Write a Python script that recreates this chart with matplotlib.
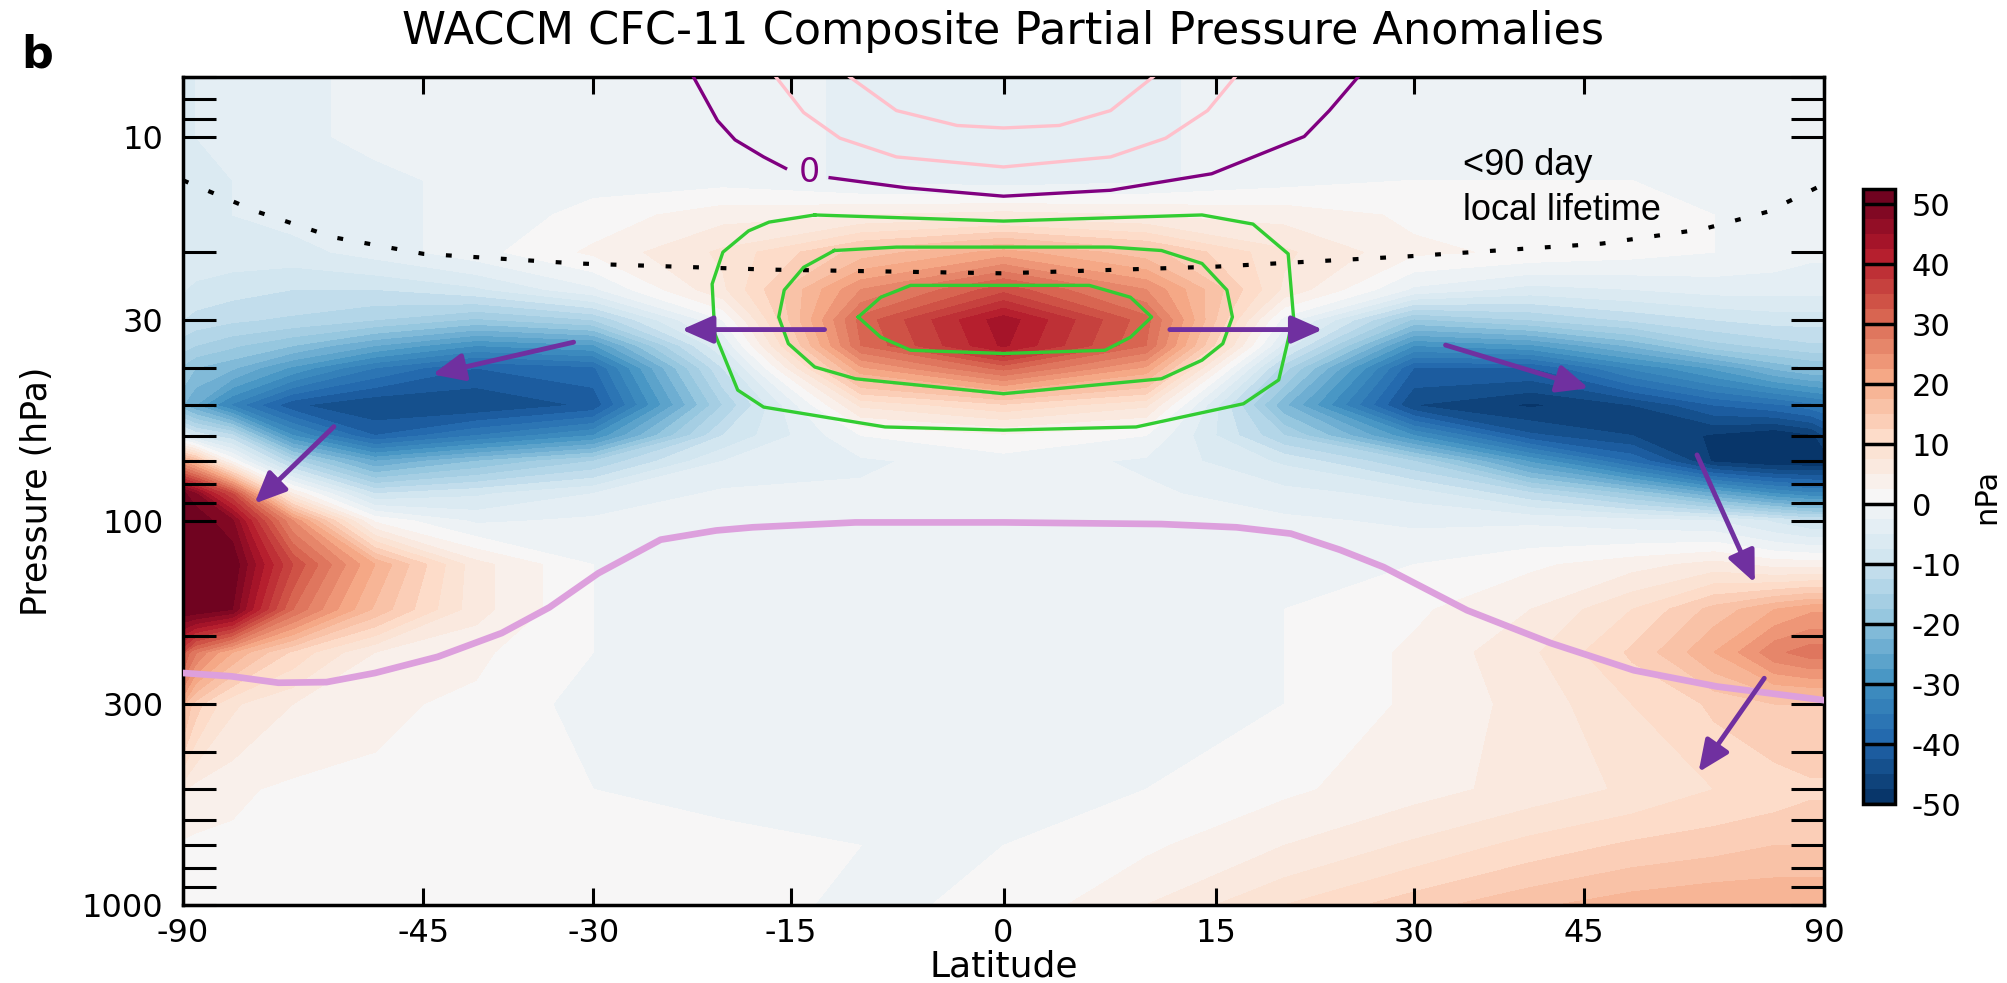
import numpy as np
import matplotlib.pyplot as plt
from matplotlib.ticker import FixedLocator, FixedFormatter, LogLocator, NullFormatter

# grid (nPa); rows = pressure levels, columns = latitudes
lats = [-90, -80, -70, -60, -50, -40, -30, -20, -10, 0, 10, 20, 30, 40, 50, 60, 70, 80, 90]
levs = [7, 10, 13, 16, 20, 25, 30, 35, 40, 50, 60, 70, 85, 100, 130, 170, 220, 300, 500, 700, 1000]
anom = [
    [-5, -5, -4, -3, -2, -1, -1, -1, -3, -5, -3, -1, -1, -1, -1, -1, -1, -1, -1],
    [-5, -5, -4, -3, -2, -1, -1, -1, -3, -4, -3, -1, -1, -1, -1, -1, -1, -1, -1],
    [-5, -5, -5, -4, -3, -2, -1, -1, -3, -4, -3, -1, 0, 0, 0, 0, -1, -1, -1],
    [-5, -5, -5, -4, -3, -2, 1, 4, 5, 6, 5, 4, 2, 1, 1, 0, -1, -1, -1],
    [-5, -6, -6, -6, -4, -1, 3, 8, 16, 21, 16, 8, 3, 2, 1, 0, -1, -2, -2],
    [-7, -8, -9, -10, -10, -8, -3, 7, 25, 34, 25, 7, -3, -6, -5, -4, -4, -4, -4],
    [-10, -11, -12, -13, -15, -18, -15, 0, 31, 44, 31, -1, -18, -15, -12, -10, -9, -9, -9],
    [-14, -15, -17, -20, -25, -30, -28, -5, 30, 43, 30, -6, -30, -28, -22, -16, -14, -13, -13],
    [-18, -20, -22, -28, -35, -40, -38, -10, 22, 31, 22, -14, -40, -40, -32, -27, -22, -20, -20],
    [-22, -25, -33, -42, -45, -45, -42, -15, 8, 12, 8, -22, -45, -48, -45, -40, -38, -36, -35],
    [-5, -8, -12, -30, -40, -35, -30, -10, 0, 2, 0, -15, -30, -42, -45, -48, -50, -48, -45],
    [22, 18, 2, -14, -25, -20, -15, -5, -3, -1, -3, -8, -15, -28, -38, -48, -52, -52, -50],
    [52, 48, 35, 5, -10, -8, -5, -2, -2, -2, -2, -4, -6, -12, -18, -25, -30, -32, -32],
    [55, 53, 48, 25, 2, -3, -2, -1, -1, -1, -1, -2, -3, -3, -4, -5, -8, -10, -10],
    [55, 55, 53, 35, 20, 6, 0, -1, -1, -1, -1, -1, 0, 2, 4, 6, 4, 4, 4],
    [55, 55, 50, 30, 17, 6, 0, -1, -1, -1, -1, 0, 2, 5, 10, 16, 20, 22, 22],
    [35, 28, 20, 12, 5, 3, 0, -1, -1, -1, -1, 0, 3, 7, 13, 20, 27, 29, 29],
    [20, 14, 8, 5, 3, 2, -1, -1, -1, -1, -1, 0, 3, 6, 10, 13, 15, 15, 15],
    [6, 4, 3, 2, 2, 1, 0, -1, -1, -1, 0, 2, 4, 6, 8, 10, 11, 12, 12],
    [2, 2, 2, 2, 2, 2, 1, 1, 0, 0, 2, 5, 8, 11, 13, 14, 15, 15, 15],
    [2, 2, 2, 2, 2, 2, 1, 1, -0.5, 0.5, 5, 10, 14, 17, 19, 20, 20, 20, 20],
]

# tropopause (plum)
trop_lat = [-90, -70.2, -62.1, -55.6, -50, -43.6, -37.7, -33.6, -29.6, -24.7, -20.5, -17.8,
            -10.4, 0, 11.1, 16.5, 20.5, 24.2, 27.6, 34.4, 41.8, 50.2, 60.4, 90]
trop_p = [249, 254, 264, 263, 249, 226, 196, 168, 137, 112, 106, 104,
          101, 101, 102, 104, 108, 119, 132, 171, 208, 245, 270, 293]

# <90 day local lifetime boundary
life_lat = [-90, -65.4, -54.7, -45, -31.3, -16.6, 0, 15.1, 29.6, 46.8, 58.6, 68.6, 90]
life_p = [13.0, 15.7, 18.3, 20.2, 21.4, 22.2, 22.7, 21.8, 20.5, 19.0, 17.4, 15.7, 13.3]

# zero contour (purple), split around its label
zero_lat_a = [-22.2, -20.4, -19.1, -17.0, -15.4]
zero_p_a = [7, 9.09, 10.2, 11.3, 12.1]
zero_lat_b = [-12.2, -6.8, 0, 7.5, 14.7, 21.5, 23.4, 25.6]
zero_p_b = [12.8, 13.6, 14.3, 13.8, 12.5, 10.0, 8.56, 7]

# pink contours
pink1_lat = [-16.1, -14.1, -11.5, -7.5, 0, 7.5, 11.4, 14.4, 16.4]
pink1_p = [7, 8.66, 10.1, 11.3, 12.0, 11.3, 10.1, 8.56, 7]
pink2_lat = [-10.8, -7.5, -3.25, 0, 3.9, 7.5, 10.5]
pink2_p = [7, 8.56, 9.36, 9.5, 9.36, 8.56, 7]

# green contours
green1_lat = [-13.3, -16.6, -18.1, -20.0, -20.8, -20.6, -18.9, -17.0, -8.3, 0, 9.3, 17.0, 19.6, 20.7, 20.3, 17.7, 14.0, 0, -13.3]
green1_p = [16.0, 16.7, 17.6, 20.0, 24.2, 32.6, 45.7, 50.6, 57.0, 58.1, 57.0, 49.6, 43.0, 29.5, 20.2, 16.9, 16.0, 16.6, 16.0]
green2_lat = [-11.9, -7.5, 0, 7.5, 11.1, 14.0, 15.8, 16.2, 15.5, 14.0, 11.1, 0, -10.4, -13.3, -15.2, -15.9, -15.5, -14.1, -11.9]
green2_p = [19.8, 19.4, 19.4, 19.4, 19.8, 21.4, 25.1, 29.5, 34.6, 38.2, 42.7, 46.7, 42.7, 39.8, 34.6, 29.5, 25.1, 21.9, 19.8]
green3_lat = [-10.2, -8.6, -6.5, 0, 6.0, 8.9, 10.4, 8.9, 7.1, 0, -6.5, -8.6, -10.2]
green3_p = [29.5, 26.2, 24.4, 24.4, 24.4, 26.2, 29.5, 33.3, 36.0, 36.7, 36.0, 33.3, 29.5]

# transport arrows: (start lat, start p, end lat, end p)
arrows = [
    (-31.6, 34.3, -44.1, 41.6),
    (-54.7, 56.9, -65.9, 90.2),
    (-12.6, 31.8, -23.1, 31.8),
    (11.7, 31.8, 22.9, 31.8),
    (32.6, 34.9, 45.5, 45.2),
    (57.7, 67.4, 66.3, 145),
    (68.0, 257, 57.9, 451),
]

xticks = [-90, -45, -30, -15, 0, 15, 30, 45, 90]
yticks = [10, 30, 100, 300, 1000]
cticks = [-50, -40, -30, -20, -10, 0, 10, 20, 30, 40, 50]

plt.rcParams['font.family'] = 'DejaVu Sans'

W, H = 2007, 983
fig = plt.figure(figsize=(W / 100, H / 100), dpi=100)
ax = fig.add_axes([183 / W, 1 - 905 / H, (1824 - 183) / W, (905 - 77) / H])
cax = fig.add_axes([1863 / W, 1 - 804 / H, 32 / W, (804 - 189) / H])


def fwd(x):
    return np.sin(np.radians(x))


def inv(y):
    return np.degrees(np.arcsin(np.clip(y, -1, 1)))


ax.set_xscale('function', functions=(fwd, inv))
ax.set_yscale('log')

levels = np.arange(-50, 52.6, 2.5)
cf = ax.contourf(lats, levs, np.clip(np.array(anom, float), -50, 52.4),
                 levels=levels, cmap='RdBu_r', zorder=1)

ax.plot(trop_lat, trop_p, color='plum', lw=4.8, solid_joinstyle='round', zorder=3)
ax.plot(life_lat, life_p, color='k', lw=3, ls=(0, (1.4, 5.2)), zorder=3)
ax.plot(zero_lat_a, zero_p_a, color='purple', lw=2.4, zorder=3)
ax.plot(zero_lat_b, zero_p_b, color='purple', lw=2.4, zorder=3)
ax.text(-13.7, 12.4, '0', color='purple', fontsize=24, ha='center', va='center', zorder=4)
ax.plot(pink1_lat, pink1_p, color='pink', lw=2.4, zorder=3)
ax.plot(pink2_lat, pink2_p, color='pink', lw=2.4, zorder=3)
for glat, gp in [(green1_lat, green1_p), (green2_lat, green2_p), (green3_lat, green3_p)]:
    ax.plot(glat, gp, color='limegreen', lw=2.4, zorder=3)

for la0, p0, la1, p1 in arrows:
    ax.annotate('', xy=(la1, p1), xytext=(la0, p0),
                arrowprops=dict(arrowstyle='-|>,head_length=0.95,head_width=0.42',
                                color='#7030a0', lw=3.5, shrinkA=0, shrinkB=0,
                                mutation_scale=20), zorder=5)

ax.text(34.06, 12.6, '<90 day', fontsize=26, family='Liberation Sans', va='baseline')
ax.text(34.06, 16.5, 'local lifetime', fontsize=26, family='Liberation Sans', va='baseline')

ax.set_xlim(-90, 90)
ax.set_ylim(1000, 7)
ax.set_xticks(xticks)
ax.set_xticklabels([str(t) for t in xticks])
ax.yaxis.set_major_locator(FixedLocator(yticks))
ax.yaxis.set_major_formatter(FixedFormatter([str(t) for t in yticks]))
ax.yaxis.set_minor_locator(LogLocator(base=10, subs=np.arange(2, 10), numticks=20))
ax.yaxis.set_minor_formatter(NullFormatter())
ax.tick_params(axis='x', which='both', direction='in', length=12, width=2.2,
               top=True, labelsize=23, pad=9)
ax.tick_params(axis='y', which='both', direction='in', length=24, width=2.2,
               right=True, labelsize=23, pad=14)
for s in ax.spines.values():
    s.set_linewidth(2.5)

ax.set_xlabel('Latitude', fontsize=26, labelpad=1)
ax.set_ylabel('Pressure (hPa)', fontsize=25, labelpad=20)
ax.set_title('WACCM CFC-11 Composite Partial Pressure Anomalies', fontsize=32, pad=24)
fig.text(21 / W, 1 - 67 / H, 'b', fontsize=32, fontweight='bold', va='baseline')

cb = fig.colorbar(cf, cax=cax, ticks=cticks)
cb.ax.set_yticklabels([str(t) for t in cticks])
cb.ax.tick_params(length=0, labelsize=22, pad=12)
cb.outline.set_linewidth(2.5)
for t in cticks:
    cb.ax.axhline(t, color='k', lw=2.5)
cb.set_label('nPa', fontsize=22, labelpad=8)

fig.savefig('out.png', dpi=100)
